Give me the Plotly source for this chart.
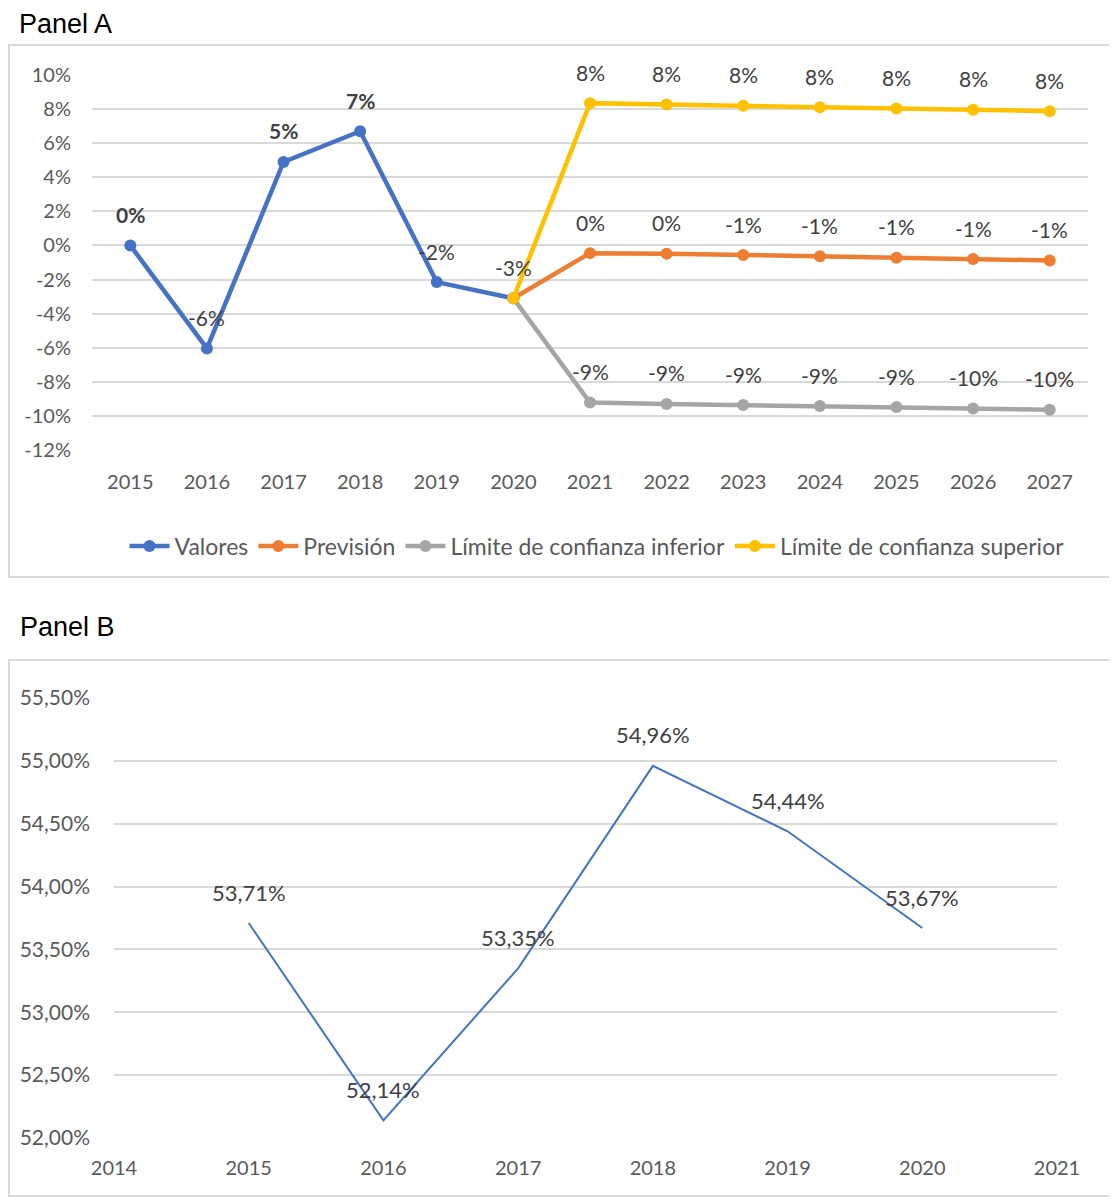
import plotly.graph_objects as go

# Page body has an 8px margin; the figure is sized so that it fills the window.
OFF = 8
W, H = 1117 - OFF, 1199 - OFF

# ---------------- Data: Panel A ----------------
years_all = ["2015", "2016", "2017", "2018", "2019", "2020", "2021",
             "2022", "2023", "2024", "2025", "2026", "2027"]
years_hist = ["2015", "2016", "2017", "2018", "2019", "2020"]
years_fc = ["2020", "2021", "2022", "2023", "2024", "2025", "2026", "2027"]

valores = [0.0, -6.04, 4.9, 6.7, -2.15, -3.1]
prevision = [-3.1, -0.45, -0.48, -0.56, -0.64, -0.72, -0.80, -0.88]
lim_inf = [-3.1, -9.22, -9.30, -9.36, -9.42, -9.48, -9.56, -9.64]
lim_sup = [-3.1, 8.35, 8.27, 8.19, 8.11, 8.03, 7.96, 7.88]

ytick_a_vals = [10, 8, 6, 4, 2, 0, -2, -4, -6, -8, -10, -12]
ytick_a_text = ["10%", "8%", "6%", "4%", "2%", "0%", "-2%", "-4%", "-6%",
                "-8%", "-10%", "-12%"]

# ---------------- Data: Panel B ----------------
years_b = [2015, 2016, 2017, 2018, 2019, 2020]
ratio_b = [53.71, 52.14, 53.35, 54.96, 54.44, 53.67]
xtick_b = [2014, 2015, 2016, 2017, 2018, 2019, 2020, 2021]
ytick_b_vals = [55.5, 55.0, 54.5, 54.0, 53.5, 53.0, 52.5, 52.0]
ytick_b_text = ["55,50%", "55,00%", "54,50%", "54,00%", "53,50%",
                "53,00%", "52,50%", "52,00%"]

# ---------------- Styling ----------------
FONT = "Lato, 'Open Sans', sans-serif"
TICK_COLOR = "#595959"
LABEL_COLOR = "#404040"
GRID = "#d9d9d9"
C_BLUE, C_ORANGE, C_GRAY, C_YELLOW = "#4472C4", "#ED7D31", "#A5A5A5", "#FFC000"


def px_x(p):
    return (p - OFF) / W


def px_y(p):
    return 1 - (p - OFF) / H


def pct_label(v):
    r = int(round(v))
    return f"{r}%"


fig = go.Figure()

series = [
    ("Valores", years_hist, valores, C_BLUE),
    ("Previsión", years_fc, prevision, C_ORANGE),
    ("Límite de confianza inferior", years_fc, lim_inf, C_GRAY),
    ("Límite de confianza superior", years_fc, lim_sup, C_YELLOW),
]
for name, xs, ys, col in series:
    fig.add_trace(go.Scatter(
        x=xs, y=ys, name=name, mode="lines+markers",
        line=dict(color=col, width=4.5),
        marker=dict(color=col, size=12),
        xaxis="x", yaxis="y", hoverinfo="skip",
    ))

annotations = []
lab_font_a = dict(family=FONT, size=21, color=LABEL_COLOR)
# Panel A data labels (category axis -> use category index)
bold_hist = {"2015", "2017", "2018"}
for xv, yv in zip(years_hist, valores):
    t = pct_label(yv)
    if xv in bold_hist:
        t = f"<b>{t}</b>"
    annotations.append(dict(x=years_all.index(xv), y=yv, xref="x", yref="y",
                            text=t, showarrow=False, yshift=31,
                            font=lab_font_a))
for _, xs, ys, _c in series[1:]:
    for xv, yv in zip(xs[1:], ys[1:]):
        annotations.append(dict(x=years_all.index(xv), y=yv, xref="x",
                                yref="y", text=pct_label(yv), showarrow=False,
                                yshift=31, font=lab_font_a))

# Panel B
fig.add_trace(go.Scatter(
    x=years_b, y=ratio_b, mode="lines", showlegend=False,
    line=dict(color=C_BLUE, width=2), xaxis="x2", yaxis="y2", hoverinfo="skip",
))
for xv, yv in zip(years_b, ratio_b):
    t = f"{yv:.2f}".replace(".", ",") + "%"
    annotations.append(dict(x=xv, y=yv, xref="x2", yref="y2", text=t,
                            showarrow=False, yshift=31,
                            font=dict(family=FONT, size=22, color=LABEL_COLOR)))

# Panel titles
title_font = dict(family="Liberation Sans, Arial", size=27, color="#000000")
annotations.append(dict(x=px_x(18), y=px_y(8), xref="paper", yref="paper",
                        xanchor="left", yanchor="top", text="Panel A",
                        showarrow=False, borderpad=0, font=title_font))
annotations.append(dict(x=px_x(18), y=px_y(627), xref="paper", yref="paper",
                        xanchor="left", yanchor="middle", text="Panel B",
                        showarrow=False, font=title_font))

shapes = [
    dict(type="rect", xref="paper", yref="paper",
         x0=px_x(9), x1=px_x(1113), y0=px_y(577), y1=px_y(45),
         line=dict(color=GRID, width=2), fillcolor="rgba(0,0,0,0)", layer="below"),
    dict(type="rect", xref="paper", yref="paper",
         x0=px_x(9), x1=px_x(1113), y0=px_y(1196), y1=px_y(660),
         line=dict(color=GRID, width=2), fillcolor="rgba(0,0,0,0)", layer="below"),
]

tickfont = dict(family=FONT, size=20, color=TICK_COLOR)
tickfont_b = dict(family=FONT, size=21, color=TICK_COLOR)

common = dict(automargin=False, showline=False, zeroline=False, ticks="")

fig.update_layout(
    width=W, height=H,
    margin=dict(l=0, r=0, t=0, b=0, pad=0),
    paper_bgcolor="white", plot_bgcolor="white",
    font=dict(family=FONT, color=TICK_COLOR),
    annotations=annotations,
    shapes=shapes,
    legend=dict(orientation="h", x=px_x(597), xanchor="center",
                y=px_y(546), yanchor="middle",
                font=dict(family=FONT, size=23, color=TICK_COLOR),
                itemwidth=40, tracegroupgap=0, bgcolor="rgba(0,0,0,0)"),
    xaxis=dict(domain=[px_x(92), px_x(1088)], anchor="y", type="category",
               categoryorder="array", categoryarray=years_all,
               range=[-0.5, 12.5], showgrid=False, ticklabelstandoff=18,
               tickfont=tickfont, **common),
    yaxis=dict(domain=[px_y(450), px_y(75)], anchor="x", range=[-12, 10],
               tickvals=ytick_a_vals, ticktext=ytick_a_text,
               showgrid=True, gridcolor=GRID, gridwidth=2,
               ticklabelstandoff=20, tickfont=tickfont, **common),
    xaxis2=dict(domain=[px_x(114), px_x(1057)], anchor="y2", range=[2014, 2021],
                tickvals=xtick_b, ticktext=[str(v) for v in xtick_b],
                showgrid=False, ticklabelstandoff=16, tickfont=tickfont,
                **common),
    yaxis2=dict(domain=[px_y(1138), px_y(698)], anchor="x2", range=[52, 55.5],
                tickvals=ytick_b_vals, ticktext=ytick_b_text,
                showgrid=True, gridcolor=GRID, gridwidth=2,
                ticklabelstandoff=23, tickfont=tickfont_b, **common),
)

fig.write_html("out.html")
